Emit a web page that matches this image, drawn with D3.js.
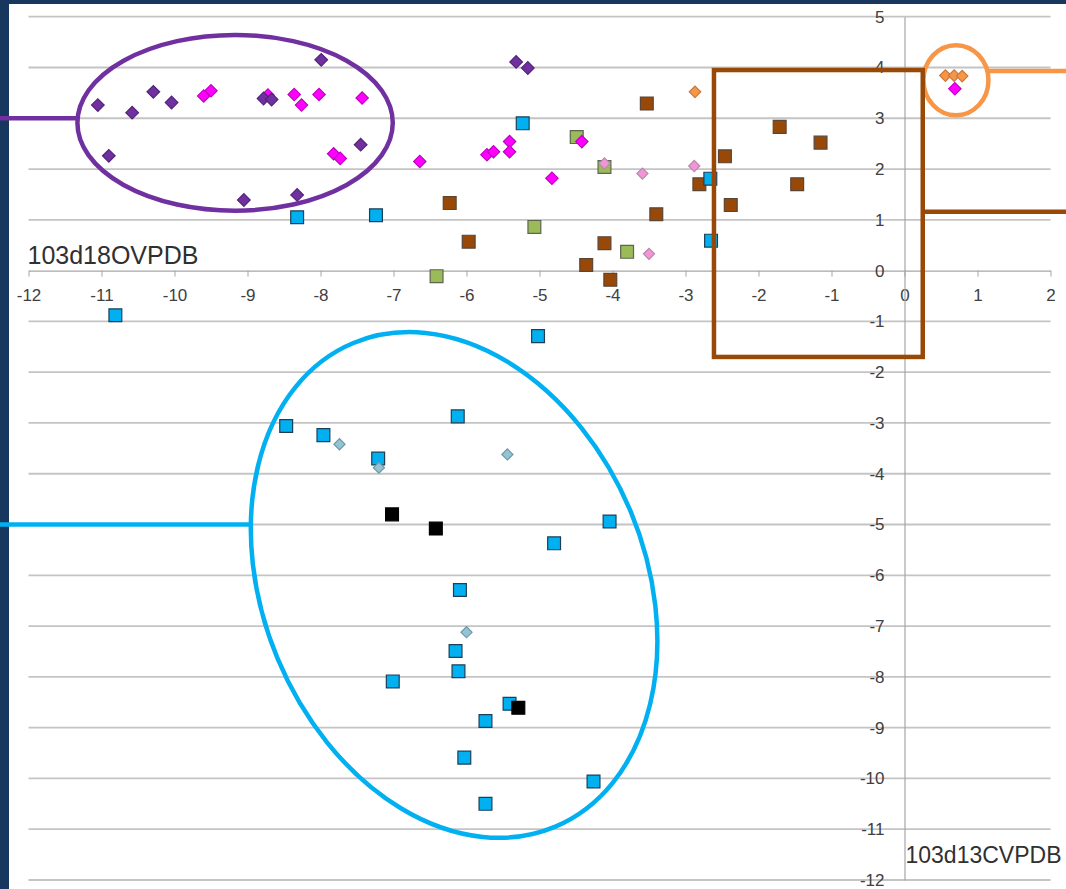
<!DOCTYPE html>
<html>
<head>
<meta charset="utf-8">
<script src="https://cdn.jsdelivr.net/npm/d3@7"></script>
<style>
  body { margin: 0; background: #17375e; }
  svg { display: block; }
</style>
</head>
<body>
<div id="chart"></div>
<script>
const width = 1066, height = 889;

// tick values on both axes
const xTicks = [-12, -11, -10, -9, -8, -7, -6, -5, -4, -3, -2, -1, 0, 1, 2];
const yTicks = [-12, -11, -10, -9, -8, -7, -6, -5, -4, -3, -2, -1, 0, 1, 2, 3, 4, 5];

// series as [d13C, d18O]
const purpleDiamonds = [[-11.05, 3.26], [-10.90, 2.26], [-10.58, 3.11], [-10.29, 3.52], [-10.04, 3.31],
  [-9.05, 1.39], [-8.78, 3.39], [-8.67, 3.37], [-8.32, 1.49], [-7.99, 4.15], [-7.45, 2.48],
  [-5.32, 4.11], [-5.16, 3.99]];
const magentaDiamonds = [[-9.60, 3.44], [-9.50, 3.54], [-8.72, 3.46], [-8.36, 3.47], [-8.26, 3.26],
  [-8.02, 3.47], [-7.43, 3.40], [-7.82, 2.30], [-7.73, 2.21], [-6.64, 2.15], [-5.72, 2.28],
  [-5.63, 2.34], [-5.41, 2.54], [-5.41, 2.34], [-4.42, 2.54], [-4.83, 1.82], [0.69, 3.58]];
const pinkDiamonds = [[-4.11, 2.11], [-3.59, 1.91], [-2.88, 2.06], [-3.50, 0.33]];
const orangeDiamonds = [[-2.87, 3.52], [0.56, 3.84], [0.68, 3.84], [0.79, 3.83]];
const paleBlueDiamonds = [[-7.74, -3.42], [-7.20, -3.88], [-5.44, -3.62], [-6.00, -7.12]];
const blueSquares = [[-8.32, 1.05], [-7.24, 1.09], [-5.23, 2.90], [-2.66, 1.81], [-2.65, 0.59],
  [-10.81, -0.88], [-5.02, -1.29], [-8.47, -3.06], [-7.96, -3.24], [-6.12, -2.87], [-7.21, -3.70],
  [-4.04, -4.94], [-4.80, -5.37], [-6.09, -6.29], [-6.15, -7.49], [-6.11, -7.89], [-7.01, -8.09],
  [-5.41, -8.53], [-5.74, -8.87], [-6.03, -9.59], [-4.26, -10.06], [-5.74, -10.50]];
const brownSquares = [[-6.23, 1.33], [-5.97, 0.57], [-4.11, 0.54], [-4.36, 0.11], [-4.03, -0.18],
  [-3.53, 3.29], [-3.40, 1.11], [-2.81, 1.70], [-2.46, 2.25], [-2.38, 1.29], [-1.71, 2.83],
  [-1.15, 2.52], [-1.47, 1.70]];
const greenSquares = [[-4.49, 2.63], [-4.11, 2.04], [-5.07, 0.86], [-3.80, 0.37], [-6.41, -0.11]];
const blackSquares = [[-7.02, -4.80], [-6.42, -5.08], [-5.29, -8.61]];

const xTitle = '103d13CVPDB';
const yTitle = '103d18OVPDB';

const svg = d3.select('#chart')
  .append('svg')
  .attr('width', width)
  .attr('height', height);

// slide background + white chart area
svg.append('rect').attr('width', width).attr('height', height).attr('fill', '#17375e');
svg.append('rect').attr('x', 9).attr('y', 4).attr('width', width).attr('height', height).attr('fill', '#ffffff');

const xscale = d3.scaleLinear().domain([-12, 2]).range([28.5, 1050.5]);
const yscale = d3.scaleLinear().domain([-12, 5]).range([880, 16.7]);

// horizontal gridlines
svg.append('g')
  .selectAll('line')
  .data(yTicks.filter(v => v !== 0))
  .join('line')
  .attr('x1', xscale(-12)).attr('x2', xscale(2))
  .attr('y1', d => yscale(d)).attr('y2', d => yscale(d))
  .attr('stroke', '#c4c4c4')
  .attr('stroke-width', 1.8);

// axes cross at the origin
const xaxis = d3.axisBottom(xscale).tickValues(xTicks).tickSize(6).tickSizeOuter(0).tickPadding(12)
  .tickFormat(d => String(d));
const yaxis = d3.axisLeft(yscale).tickValues(yTicks).tickSize(0).tickPadding(20)
  .tickFormat(d => String(d));

const gx = svg.append('g')
  .attr('transform', 'translate(0,' + yscale(0) + ')')
  .call(xaxis);
const gy = svg.append('g')
  .attr('transform', 'translate(' + xscale(0) + ',0)')
  .call(yaxis);

[gx, gy].forEach(g => {
  g.select('.domain').attr('stroke', '#a6a6a6').attr('stroke-width', 1.2);
  g.selectAll('.tick line').attr('stroke', '#a6a6a6');
  g.selectAll('.tick text')
    .attr('fill', '#404040')
    .style('font-family', '"Liberation Sans", Arial, sans-serif')
    .style('font-size', '17px');
});

// axis titles
svg.append('text')
  .attr('x', xscale(-12) - 1)
  .attr('y', yscale(0) - 7)
  .attr('fill', '#303030')
  .style('font-family', '"Liberation Sans", Arial, sans-serif')
  .style('font-size', '25px')
  .text(yTitle);
svg.append('text')
  .attr('x', xscale(0) + 1)
  .attr('y', yscale(-11.5) + 8)
  .attr('fill', '#303030')
  .style('font-family', '"Liberation Sans", Arial, sans-serif')
  .style('font-size', '23px')
  .text(xTitle);

// markers
function drawMarkers(data, shape, size, fill, stroke) {
  const sym = d3.symbol().type(d3.symbolSquare).size(size);
  const rot = shape === 'diamond' ? ' rotate(45)' : '';
  svg.append('g')
    .selectAll('path')
    .data(data)
    .join('path')
    .attr('d', sym)
    .attr('transform', d => 'translate(' + xscale(d[0]) + ',' + yscale(d[1]) + ')' + rot)
    .attr('fill', fill)
    .attr('stroke', stroke)
    .attr('stroke-width', 1.2);
}

drawMarkers(brownSquares, 'square', 165, '#984807', '#5b4636');
drawMarkers(greenSquares, 'square', 165, '#9bbb59', '#5c6650');
drawMarkers(blueSquares, 'square', 165, '#00b0f0', '#1d4057');
drawMarkers(orangeDiamonds, 'diamond', 66, '#f79646', '#c87a3e');
drawMarkers(magentaDiamonds, 'diamond', 76, '#ff00ff', '#c000c0');
drawMarkers(purpleDiamonds, 'diamond', 80, '#7030a0', '#52247a');
drawMarkers(pinkDiamonds, 'diamond', 62, '#f394d8', '#b88aac');
drawMarkers(paleBlueDiamonds, 'diamond', 62, '#93c4d4', '#6e98a8');
drawMarkers(blackSquares, 'square', 165, '#000000', '#000000');

// annotation shapes (data units)
const purpleRing = {cx: -9.17, cy: 2.91, rx: 2.16, ry: 1.73};
const blueRing = {cx: -6.17, cy: -6.19, rx: 2.62, ry: 5.16, angle: -22.6};
const orangeRing = {cx: 0.705, cy: 3.75, rx: 0.445, ry: 0.69};
const brownBox = {x0: -2.61, x1: 0.25, y0: 3.95, y1: -1.70};

const ann = svg.append('g').attr('fill', 'none').attr('stroke-width', 4.5);

function ring(r, color) {
  const cx = xscale(r.cx), cy = yscale(r.cy);
  const rx = xscale(r.cx + r.rx) - cx;
  const ry = cy - yscale(r.cy + r.ry);
  ann.append('ellipse')
    .attr('cx', cx).attr('cy', cy).attr('rx', rx).attr('ry', ry)
    .attr('transform', r.angle ? 'rotate(' + r.angle + ',' + cx + ',' + cy + ')' : null)
    .attr('stroke', color);
  // leftmost / rightmost point of the (rotated) ring
  const t = (r.angle || 0) * Math.PI / 180;
  const half = Math.sqrt(rx * rx * Math.cos(t) ** 2 + ry * ry * Math.sin(t) ** 2);
  return {left: cx - half, right: cx + half};
}

const pr = ring(purpleRing, '#7030a0');
const br = ring(blueRing, '#00b0f0');
const or = ring(orangeRing, '#f79646');

ann.append('rect')
  .attr('x', xscale(brownBox.x0)).attr('y', yscale(brownBox.y0))
  .attr('width', xscale(brownBox.x1) - xscale(brownBox.x0))
  .attr('height', yscale(brownBox.y1) - yscale(brownBox.y0))
  .attr('stroke', '#984807');

// callout lines running off the slide edge
ann.append('line').attr('x1', 0).attr('x2', pr.left).attr('y1', yscale(3)).attr('y2', yscale(3)).attr('stroke', '#7030a0');
ann.append('line').attr('x1', 0).attr('x2', br.left).attr('y1', yscale(-5)).attr('y2', yscale(-5)).attr('stroke', '#00b0f0');
ann.append('line').attr('x1', or.right).attr('x2', width).attr('y1', yscale(3.93)).attr('y2', yscale(3.93)).attr('stroke', '#f79646');
ann.append('line').attr('x1', xscale(brownBox.x1)).attr('x2', width).attr('y1', yscale(1.16)).attr('y2', yscale(1.16)).attr('stroke', '#984807');
</script>
</body>
</html>
